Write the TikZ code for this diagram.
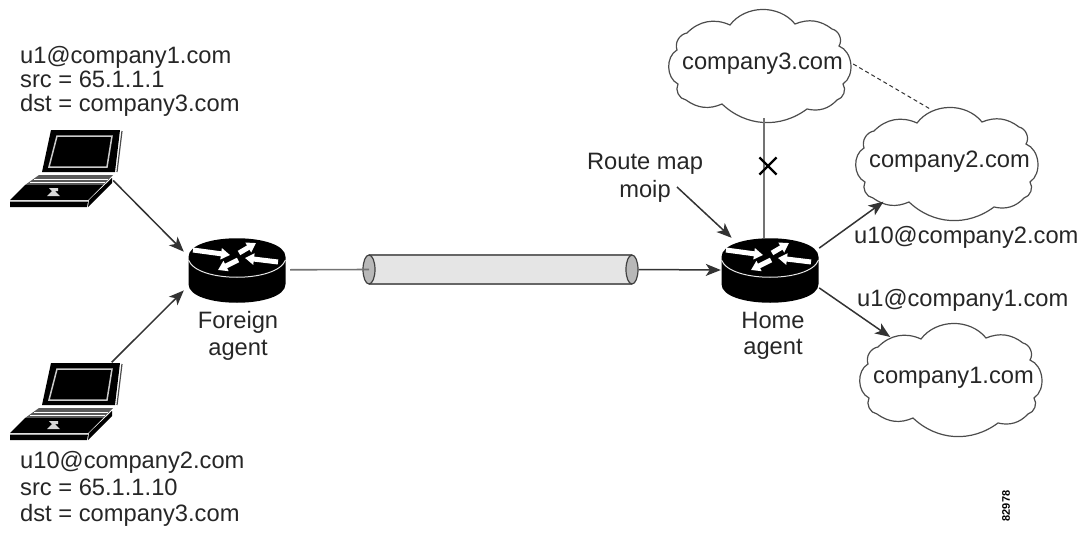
\documentclass[tikz,border=0pt]{standalone}
\usepackage{fontspec}
\setmainfont{Liberation Sans}
\usetikzlibrary{arrows.meta,shapes.geometric,shapes.misc}
\newcommand\cloudoutline[1]{%
  \draw[cloudline,shift={(#1)}]
    (-83,-14) to[bend left=50] (-73,-31) to[bend left=35] (-30,-39) to[bend left=52] (35,-40)
    to[bend left=30] (72,-35) to[bend left=55] (79,-18)
    to[bend left=62] (83,20) to[bend left=55] (77,36) to[bend left=30] (47,45) to[bend left=40] (-38,40)
    to[bend left=30] (-74,36) to[bend left=55] (-82,20) to[bend left=62] cycle;}
\newcommand\cloudtext[1]{\makebox[0pt]{\hspace*{5pt}\raisebox{-3pt}{#1}}}
\newcommand\routericon[1]{%
  \begin{scope}[shift={(#1)}]
    \fill[black] (-48.5,-13) -- (-48.5,14) .. controls (-48.5,39) and (48.5,39) .. (48.5,14)
      -- (48.5,-13) .. controls (48.5,-38) and (-48.5,-38) .. (-48.5,-13) -- cycle;
    \draw[white!90!black,line width=1] (-48.5,-10) .. controls (-40,13) and (40,13) .. (48.5,-10);
    \draw[rarrow] (-44,-20) -- (-7,-15);
    \draw[rarrow] (41,-8) -- (8,-12);
    \draw[rarrow] (2,-17) -- (19,-27);
    \draw[rarrow] (1,-10) -- (-19,0);
  \end{scope}}
\newcommand\laptopicon[1]{%
  \begin{scope}[shift={(#1)}]
    \fill[black] (51,130) -- (120,130) -- (115,172) -- (42,172) -- cycle;
    \draw[black!20,line width=1.5] (57,136) -- (112,136) -- (107,167) -- (49,167) -- cycle;
    \draw[black!70,line width=1.2] (122,131) -- (117,172);
    \fill[black!65] (39,175) -- (113,175) -- (103,185) -- (25,185) -- cycle;
    \draw[white,line width=0.5] (34,179) -- (108,179) (30,182) -- (105,182);
    \fill[black] (25,185) -- (103,185) -- (88,200) -- (10,200) -- cycle;
    \fill[black] (10,201.5) -- (88,201.5) -- (87,207) -- (10,207) -- cycle;
    \fill[black] (89,200) -- (112,178) -- (112,183) -- (88,207) -- cycle;
    \fill[white!85!black] (49,188) -- (58,188) -- (58,191) -- (55,191) -- (60,196) -- (47,196) -- (52,191) -- cycle;
  \end{scope}}
\tikzset{
  lbl/.style={font=\fontsize{23.7}{26.5}\selectfont,text=black!85,inner sep=0pt,align=center},
  lblL/.style={lbl,align=left,anchor=west},
  cloudline/.style={draw=black!70,line width=1.2},
  cloudbox/.style={lbl,ellipse,minimum width=186,minimum height=108},
  rbox/.style={minimum height=64,inner sep=0pt},
  lapbox/.style={minimum width=103,minimum height=78,inner sep=0pt},
  conn/.style={draw=black!80,line width=1.5},
  plain/.style={draw=black!55,line width=1.6},
  arr/.style={conn,-{Stealth[length=15,width=12,inset=4]}},
  rarrow/.style={white,line width=5,-{Triangle[length=9,width=11]}},
  tubecap/.style={ellipse,draw=black!75,fill=black!28,line width=1.2,minimum width=12,minimum height=29,inner sep=0pt},
  tube/.style={fill=black!10,draw=none,minimum width=263,minimum height=29,inner sep=0pt},
}
\begin{document}
\begin{tikzpicture}[x=1pt,y=-1pt]
\useasboundingbox (0,0) rectangle (1085,533);
% layout nodes
\node[rbox,minimum width=106] (fa) at (237,270) {};
\node[rbox,minimum width=98] (ha) at (770,270) {};
\node[lapbox] (lap1) at (61.5,168.5) {};
\node[lapbox] (lap2) at (61.5,401.5) {};
\node[cloudbox] (c3) at (760,64) {\cloudtext{company3.com}};
\node[cloudbox] (c2) at (947,162) {\cloudtext{company2.com}};
\node[cloudbox] (c1) at (951,378) {\cloudtext{company1.com}};
\cloudoutline{c3.center}
\cloudoutline{c2.center}
\cloudoutline{c1.center}
% tunnel
\node[tube] (tun) at (500.5,269.5) {};
\draw[black!60,line width=1.5] (tun.north west) -- (tun.north east) (tun.south west) -- (tun.south east);
\node[tubecap] (tl) at (369,269.5) {};
\node[tubecap] (tr) at (632,269.5) {};
% connectors
\draw[plain] (fa) -- (tl.center);
\draw[arr] (tr.east) -- (ha.west);
\draw[arr] (lap1.-13.6) -- (fa.161);
\draw[arr] (lap2.38) -- (fa.201);
\coordinate (rmstart) at (677,187);
\draw[arr] (rmstart) -- (ha.140);
\draw[arr] (ha.24.6) -- (c2.212.6);
\draw[arr] (ha.-20.6) -- (c1.146.7);
\draw[plain] (c3.-86) -- (c3.-86 |- ha.north);
\draw[conn,dashed,dash pattern=on 4pt off 3pt,line width=1] (c3.0) -- (c2.108);
\node[cross out,draw=black,line width=2.2,minimum size=15,inner sep=0pt] (xmark) at (768,166) {};
% icons
\routericon{fa.center}
\routericon{ha.center}
\laptopicon{0,0}
\laptopicon{0,233}
% labels
\node[lbl] (fal) at (238,336) {Foreign\\agent};
\node[lbl] (hal) at (773,336) {Home\\agent};
\node[lbl] (rm) at (645,178) {Route map\\[1pt]moip};
\node[lblL] (t1) at (20,81) {u1@company1.com\\[-2.5pt]src = 65.1.1.1\\[-2.5pt]dst = company3.com};
\node[lblL] (t2) at (20,489) {u10@company2.com\\src = 65.1.1.10\\dst = company3.com};
\node[lblL] (l2) at (854,237) {u10@company2.com};
\node[lblL] (l1) at (857,300) {u1@company1.com};
\node[font=\bfseries\fontsize{11}{11}\selectfont,rotate=90,inner sep=0pt] (fig) at (1006,506) {82978};
\end{tikzpicture}
\end{document}
